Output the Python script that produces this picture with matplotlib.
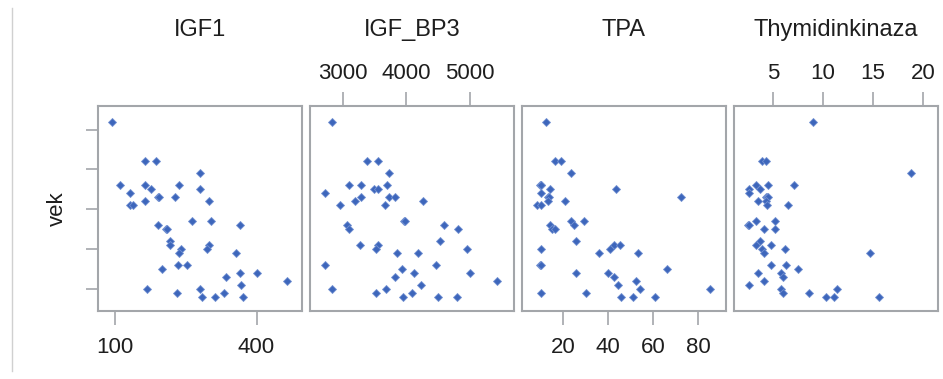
import numpy as np
import matplotlib as mpl
mpl.use('Agg')
import matplotlib.pyplot as plt

plt.rcParams['font.family'] = ['Liberation Sans', 'DejaVu Sans']

# age (vek) and the four markers, one entry per patient
vek = [72, 62, 62, 59, 56, 56, 56, 55, 55, 54, 53, 53, 53, 52, 52, 51, 51,
       47, 47, 46, 46, 45, 45, 42, 41, 41, 40, 40, 39, 39, 36, 36, 35, 34, 34,
       33, 32, 31, 30, 30, 29, 29, 28, 28, 28]
igf1 = [95, 164, 187, 280, 111, 164, 236, 176, 280, 132, 191, 193, 227, 164, 300,
        132, 140, 264, 304, 192, 364, 208, 211, 218, 218, 300, 240, 296, 236, 356,
        233, 252, 200, 364, 400, 336, 464, 368, 168, 280, 232, 332, 284, 312, 372]
igf_bp3 = [2832, 3374, 3553, 3732, 3100, 3284, 3700, 3489, 3553, 2716, 3284, 3732,
           3821, 3195, 4268, 2953, 3668, 3965, 3985, 3058, 4600, 3089, 4810, 4537,
           3268, 3553, 3521, 4958, 3847, 4179, 2716, 4463, 3937, 4121, 5000, 3821,
           5437, 4237, 2832, 3674, 3521, 4089, 3942, 4505, 4805]
tpa = [12.5, 16.6, 19.1, 23.4, 9.8, 10.0, 10.2, 14.3, 43.3, 10.0, 13.4, 13.6, 72.4,
       13.4, 20.9, 8.3, 10.0, 23.4, 29.2, 14.3, 25.0, 15.0, 16.6, 25.9, 42.4, 45.1,
       10.0, 40.8, 35.8, 53.3, 9.9, 10.1, 65.9, 25.9, 40.0, 42.4, 52.4, 44.2, 54.2,
       85.0, 10.0, 30.1, 45.8, 50.8, 60.8]
thymidinkinaza = [9.0, 3.9, 4.3, 18.8, 3.3, 4.5, 7.1, 2.6, 3.7, 2.6, 4.3, 4.4, 4.5,
                  3.5, 4.3, 4.4, 6.5, 3.3, 5.2, 2.5, 2.6, 4.1, 5.2, 3.7, 3.3, 4.8,
                  3.9, 6.2, 4.1, 14.7, 4.8, 6.3, 7.5, 3.5, 5.8, 6.0, 4.1, 2.6, 5.8,
                  11.4, 6.0, 8.6, 10.3, 11.1, 15.6]

names = ['IGF1', 'IGF_BP3', 'TPA', 'Thymidinkinaza']
columns = [igf1, igf_bp3, tpa, thymidinkinaza]
xticks = [[100, 400], [3000, 4000, 5000], [20, 40, 60, 80], [5, 10, 15, 20]]
xlims = [(65, 496), (2479, 5700), (1.8, 92.2), (1.07, 21.5)]
tick_side = ['bottom', 'top', 'bottom', 'top']
yticks = [30, 40, 50, 60, 70]

W, H = 943, 379
frame = '#a3a6aa'
txt = '#1e1e1e'
fig = plt.figure(figsize=(W / 100, H / 100), dpi=100)

lefts = [98, 310, 522, 734]
for i, name in enumerate(names):
    ax = fig.add_axes([lefts[i] / W, (H - 311) / H, 204 / W, 205 / H])
    ax.plot(columns[i], vek, ls='none', marker='D', ms=3.8,
            mfc='#3d66bb', mec='#7391d2', mew=0.6)
    ax.set_xlim(*xlims[i])
    ax.set_ylim(24.5, 75.9)
    for s in ax.spines.values():
        s.set_color(frame)
        s.set_linewidth(1.5)
    ax.set_xticks(xticks[i])
    if tick_side[i] == 'top':
        ax.xaxis.tick_top()
        pad = 6
    else:
        pad = 9
    ax.tick_params(axis='x', length=10, width=1.2, color=frame, labelsize=16,
                   labelcolor=txt, pad=pad)
    if i == 0:
        ax.set_yticks(yticks)
        ax.set_yticklabels([])
        ax.tick_params(axis='y', length=9, width=1.2, color=frame)
        ax.set_ylabel('vek', fontsize=16, color=txt, labelpad=9)
    else:
        ax.set_yticks([])
    fig.text((lefts[i] + 102) / W, 1 - 30 / H, name, ha='center', va='center',
             fontsize=17, color=txt)

# thin border line at the left edge
fig.add_artist(plt.Line2D([12 / W, 12 / W], [0.02, 0.98], color='#d0d0d0', lw=1))

fig.savefig('out.png', dpi=100)
